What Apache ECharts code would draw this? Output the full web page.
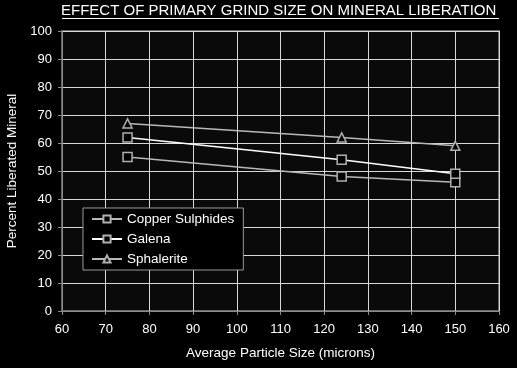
<!DOCTYPE html>
<html><head><meta charset="utf-8">
<script src="https://cdn.jsdelivr.net/npm/echarts@6/dist/echarts.min.js"></script>
<style>html,body{margin:0;padding:0;background:#000;}#c{width:517px;height:368px;}</style>
</head><body><div id="c"></div>
<script>
const xValues = [75, 124, 150];
const copperSulphides = [55, 48, 46];
const galena = [62, 54, 49];
const sphalerite = [67, 62, 59];
const seriesNames = ['Copper Sulphides', 'Galena', 'Sphalerite'];

const chart = echarts.init(document.getElementById('c'));
const font = 'Liberation Sans, Arial, sans-serif';
function pts(ys){ return xValues.map((x,i)=>[x, ys[i]]); }
function mk(name, data, color, symbol){
  return {
    name, type:'line', data: pts(data), symbol, symbolSize: 9,
    lineStyle:{color, width:1.5},
    itemStyle:{color:'#000', borderColor:'#b0b0b0', borderWidth:1.5},
    emphasis:{disabled:true}, animation:false
  };
}
chart.setOption({
  backgroundColor:'#000',
  animation:false,
  title:{text:'EFFECT OF PRIMARY GRIND SIZE ON MINERAL LIBERATION', left:61, top:2, padding:0,
    textStyle:{color:'#fff', fontFamily:font, fontSize:15, fontWeight:'normal', lineHeight:18}},
  graphic:[{type:'line', shape:{x1:62,y1:18.5,x2:499,y2:18.5}, style:{stroke:'#fff', lineWidth:1}}],
  grid:{left:62, right:18, top:31, bottom:57, show:true, backgroundColor:'#0a0a0a', borderColor:'#8a8a8a', borderWidth:1.5,
    containLabel:false, outerBoundsMode:'none'},
  legend:{orient:'vertical', left:83, top:208, itemGap:6, itemWidth:30, itemHeight:9,
    backgroundColor:'#000', borderColor:'#9a9a9a', borderWidth:1, padding:[4,9,4,8],
    textStyle:{color:'#fff', fontFamily:font, fontSize:13.5},
    data: seriesNames},
  xAxis:{type:'value', min:60, max:160, interval:10,
    name:'Average Particle Size (microns)', nameLocation:'middle', nameGap:35,
    nameTextStyle:{color:'#fff', fontFamily:font, fontSize:13.5},
    axisLine:{lineStyle:{color:'#8a8a8a'}}, axisTick:{show:true, length:4, lineStyle:{color:'#8a8a8a'}},
    axisLabel:{color:'#fff', fontFamily:font, fontSize:13, margin:12},
    splitLine:{show:true, lineStyle:{color:'#d8d8d8', width:1}}},
  yAxis:{type:'value', min:0, max:100, interval:10,
    name:'Percent Liberated Mineral', nameLocation:'middle', nameGap:43,
    nameTextStyle:{color:'#fff', fontFamily:font, fontSize:13.5},
    axisLine:{show:true, lineStyle:{color:'#8a8a8a'}}, axisTick:{show:true, length:4, lineStyle:{color:'#8a8a8a'}},
    axisLabel:{color:'#fff', fontFamily:font, fontSize:13, margin:10},
    splitLine:{show:true, lineStyle:{color:'#d8d8d8', width:1}}},
  series:[
    mk(seriesNames[0], copperSulphides, '#b8b8b8', 'rect'),
    mk(seriesNames[1], galena, '#ffffff', 'rect'),
    mk(seriesNames[2], sphalerite, '#b8b8b8', 'triangle')
  ]
});
</script></body></html>
